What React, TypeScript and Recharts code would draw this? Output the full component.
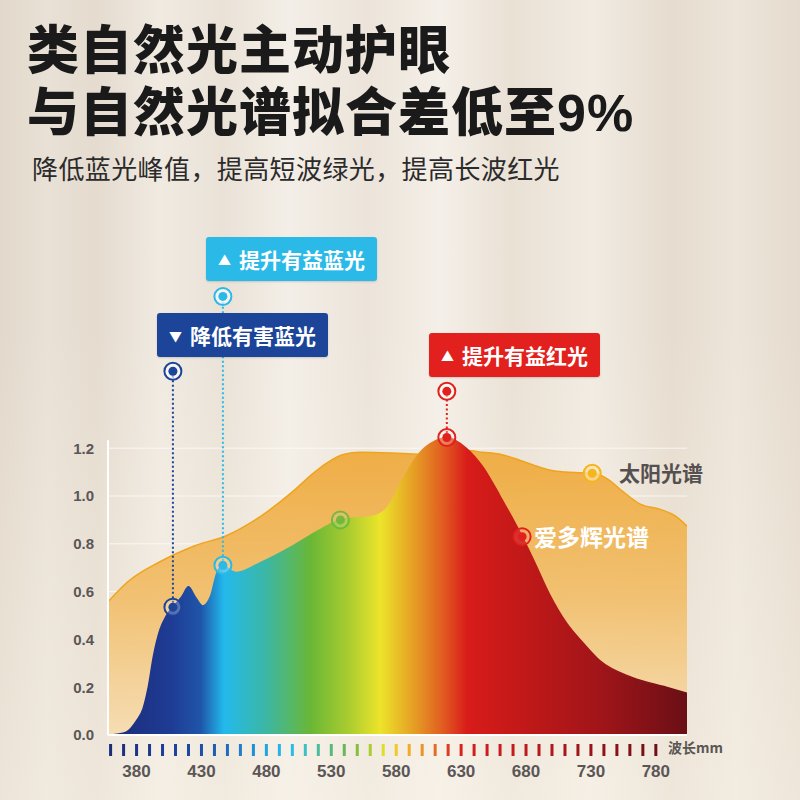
import React from 'react';
import {
  ComposedChart,
  Area,
  XAxis,
  YAxis,
  CartesianGrid,
  ReferenceLine,
  ReferenceDot,
} from 'recharts';

// ---------- data ----------
const sunWavelength = [358, 373, 398, 424, 450, 475, 500, 516, 527, 540, 552, 577, 598, 616, 634, 647, 660, 673, 686, 699, 711, 731, 742, 755, 768, 783, 796, 804];
const sunValue = [0.557, 0.64, 0.725, 0.79, 0.836, 0.913, 1.017, 1.095, 1.14, 1.175, 1.183, 1.18, 1.175, 1.18, 1.19, 1.183, 1.175, 1.154, 1.129, 1.108, 1.1, 1.095, 1.074, 1.017, 0.966, 0.945, 0.913, 0.874];

const productWavelength = [358, 365, 372, 380, 385, 389, 393, 398, 403, 408, 415, 420, 425, 431, 437, 442, 447, 452, 457, 475, 500, 520, 537, 562, 573, 585, 598, 610, 619, 634, 647, 660, 677, 686, 698, 711, 724, 737, 762, 788, 804];
const productValue = [0, 0.003, 0.012, 0.06, 0.11, 0.2, 0.33, 0.44, 0.5, 0.535, 0.58, 0.62, 0.58, 0.54, 0.58, 0.68, 0.71, 0.69, 0.68, 0.72, 0.79, 0.855, 0.9, 0.915, 0.95, 1.07, 1.18, 1.23, 1.245, 1.2, 1.12, 1.0, 0.83, 0.73, 0.59, 0.47, 0.385, 0.31, 0.24, 0.2, 0.175];

const yTicks = [0, 0.2, 0.4, 0.6, 0.8, 1.0, 1.2];
const xTicks = [360, 370, 380, 390, 400, 410, 420, 430, 440, 450, 460, 470, 480, 490, 500, 510, 520, 530, 540, 550, 560, 570, 580, 590, 600, 610, 620, 630, 640, 650, 660, 670, 680, 690, 700, 710, 720, 730, 740, 750, 760, 770, 780];
const xLabels = [380, 430, 480, 530, 580, 630, 680, 730, 780];

// callouts: wavelength, value on curve, value of upper marker
const calloutWavelength = [408, 446.5, 619];
const calloutCurveValue = [0.535, 0.71, 1.245];
const calloutTopValue = [1.522, 1.835, 1.438];

const greenMarker = { x: 537, y: 0.9 };
const sunMarker = { x: 731, y: 1.095 };
const productMarker = { x: 677, y: 0.83 };

const titleLine1 = '类自然光主动护眼';
const titleLine2 = '与自然光谱拟合差低至9%';
const subtitle = '降低蓝光峰值，提高短波绿光，提高长波红光';
const calloutLabels = ['降低有害蓝光', '提升有益蓝光', '提升有益红光'];
const sunLabel = '太阳光谱';
const productLabel = '爱多辉光谱';
const axisUnit = '波长mm';

// ---------- styles ----------
const calloutColors = ['#1c4599', '#2bb9e8', '#e2201d'];
const tickColors = [
  '#1c2c78', '#1d3080', '#1e3487', '#1e388d', '#1f3d94', '#1f429b', '#1f48a2', '#1f4fa9', '#1f5cb3', '#1f6bbf',
  '#1f7dcb', '#2090d6', '#21a4e0', '#23b4e8', '#2abce6', '#3cc0c4', '#4cbc9c', '#5ab97a', '#68b85a', '#84c03e',
  '#aacc30', '#e0dc2c', '#f0c82a', '#eeac28', '#ea9428', '#e46c24', '#de3c20', '#d8221e', '#d21e1e', '#cc1c1e',
  '#c81b1d', '#c41a1d', '#be191c', '#b8181c', '#b0171b', '#a8161b', '#a0151a', '#98141a', '#901319', '#881218',
  '#801117', '#781016', '#700f15',
];
const rainbowStops: [number, string][] = [
  [0, '#1b2a76'],
  [0.11, '#1f3c95'],
  [0.16, '#1f55a9'],
  [0.2, '#22b9ec'],
  [0.275, '#3db7a2'],
  [0.35, '#6ab736'],
  [0.415, '#a9cc30'],
  [0.47, '#ece42a'],
  [0.527, '#e6a025'],
  [0.58, '#e05a20'],
  [0.62, '#d81c1a'],
  [0.735, '#bd1818'],
  [0.85, '#a01519'],
  [1, '#6a0f16'],
];

const sunData = sunWavelength.map((x, i) => ({ x, y: sunValue[i] }));
const productData = productWavelength.map((x, i) => ({ x, y: productValue[i] }));

const NUM_FONT = '"Liberation Sans", Arial, sans-serif';
const CJK_FONT = '"Noto Sans CJK SC", "Noto Sans", sans-serif';
const TITLE_FONT = '"Liberation Sans", "Noto Sans CJK SC", sans-serif';

const WaveTick = (props: any) => {
  const { x, y, payload } = props;
  const v = payload.value;
  const i = xTicks.indexOf(v);
  return (
    <g>
      <rect x={x - 1.5} y={y + 9} width={3} height={12} fill={tickColors[i] || '#333'} />
      {xLabels.includes(v) && (
        <text
          x={x}
          y={y + 42}
          textAnchor="middle"
          fontFamily={NUM_FONT}
          fontWeight="bold"
          fontSize={17}
          fill="#5b5656"
        >
          {v}
        </text>
      )}
    </g>
  );
};

const ring = (color: string, inner = 'rgba(255,255,255,0.25)') => (p: any) => (
  <g>
    <circle cx={p.cx} cy={p.cy} r={8.5} fill={inner} stroke={color} strokeWidth={2} />
    <circle cx={p.cx} cy={p.cy} r={4.5} fill={color} />
  </g>
);

const Callout = ({ left, top, color, text, up }: any) => (
  <div
    style={{
      position: 'absolute',
      left,
      top,
      width: 171,
      height: 44,
      background: color,
      borderRadius: 3,
      color: '#fff',
      display: 'flex',
      alignItems: 'center',
      justifyContent: 'center',
      fontFamily: CJK_FONT,
      fontWeight: 700,
      fontSize: 21,
      boxShadow: '0 1px 2px rgba(0,0,0,0.15)',
    }}
  >
    <span style={{ fontSize: 13, marginRight: 8 }}>{up ? '▲' : '▼'}</span>
    <span>{text}</span>
  </div>
);

const titleStyle: React.CSSProperties = {
  position: 'absolute',
  left: 27,
  fontFamily: TITLE_FONT,
  fontWeight: 900,
  fontSize: 52,
  lineHeight: '56px',
  letterSpacing: 1,
  color: '#1a1a1a',
  whiteSpace: 'nowrap',
};

export default function App() {
  return (
    <div
      style={{
        position: 'absolute',
        left: 0,
        top: 0,
        width: 800,
        height: 800,
        overflow: 'hidden',
        background:
          'linear-gradient(180deg, rgba(255,255,255,0) 40%, rgba(250,244,232,0.45) 100%), linear-gradient(90deg, #e2d8cb 0%, #e9e1d6 6%, #e5dbcf 12%, #f0eae1 20%, #eae2d7 28%, #f3eee7 36%, #ece4da 46%, #f4efe8 55%, #eae1d5 64%, #f1ebe2 74%, #e6dccf 84%, #ede5da 92%, #e5dbce 100%)',
      }}
    >
      <div style={{ position: 'absolute', left: 0, top: 0 }}>
        <ComposedChart width={800} height={800} margin={{ top: 257, right: 113, bottom: 0, left: 0 }}>
          <defs>
            <linearGradient id="sunFill" x1="0" y1="0" x2="0" y2="1">
              <stop offset="0" stopColor="#efa93a" />
              <stop offset="0.5" stopColor="#f1bd68" />
              <stop offset="1" stopColor="#f6dcb0" />
            </linearGradient>
            <linearGradient id="rainbowFill" x1="0" y1="0" x2="1" y2="0">
              {rainbowStops.map(([o, c]) => (
                <stop key={o} offset={o} stopColor={c} />
              ))}
            </linearGradient>
          </defs>
          <CartesianGrid
            vertical={false}
            horizontalValues={yTicks}
            stroke="rgba(255,255,255,0.7)"
            strokeWidth={1}
          />
          <XAxis
            type="number"
            dataKey="x"
            domain={[358, 804]}
            ticks={xTicks}
            interval={0}
            allowDataOverflow
            height={65}
            tickLine={false}
            tickSize={0}
            tickMargin={0}
            axisLine={{ stroke: '#ffffff', strokeWidth: 2 }}
            tick={<WaveTick />}
          />
          <YAxis
            type="number"
            dataKey="y"
            domain={[0, 2]}
            ticks={yTicks}
            interval={0}
            allowDataOverflow
            width={108}
            axisLine={false}
            tickLine={false}
            tickSize={6}
            tickMargin={8}
            tickFormatter={(v: number) => v.toFixed(1)}
            tick={{ fill: '#5b5656', fontSize: 15, fontWeight: 'bold', fontFamily: NUM_FONT }}
          />
          <Area
            data={sunData}
            dataKey="y"
            type="monotone"
            fill="url(#sunFill)"
            fillOpacity={0.93}
            stroke="#f0a41c"
            strokeWidth={1.5}
            isAnimationActive={false}
          />
          <Area
            data={productData}
            dataKey="y"
            type="monotone"
            fill="url(#rainbowFill)"
            fillOpacity={1}
            stroke="url(#rainbowFill)"
            strokeWidth={1.5}
            isAnimationActive={false}
          />
          <ReferenceLine
            segment={[{ x: 358, y: 0 }, { x: 358, y: 1.233 }]}
            stroke="#ffffff"
            strokeWidth={2}
          />
          {calloutWavelength.map((w, i) => (
            <ReferenceLine
              key={'l' + i}
              segment={[{ x: w, y: calloutCurveValue[i] }, { x: w, y: calloutTopValue[i] }]}
              stroke={calloutColors[i]}
              strokeWidth={2}
              strokeDasharray="2 2.5"
            />
          ))}
          {calloutWavelength.map((w, i) => (
            <ReferenceDot
              key={'c' + i}
              x={w}
              y={calloutCurveValue[i]}
              shape={ring(calloutColors[i])}
            />
          ))}
          {calloutWavelength.map((w, i) => (
            <ReferenceDot
              key={'t' + i}
              x={w}
              y={calloutTopValue[i]}
              shape={ring(calloutColors[i], 'rgba(255,255,255,0.6)')}
            />
          ))}
          <ReferenceDot x={greenMarker.x} y={greenMarker.y} shape={ring('rgba(108,179,58,0.85)', 'rgba(180,220,140,0.35)')} />
          <ReferenceDot x={sunMarker.x} y={sunMarker.y} shape={ring('#f5b51c', 'rgba(252,226,170,0.7)')} />
          <ReferenceDot x={productMarker.x} y={productMarker.y} shape={ring('#e3201e', 'rgba(255,140,120,0.25)')} />
        </ComposedChart>
      </div>

      {/* titles */}
      <div style={{ ...titleStyle, top: 23 }}>{titleLine1}</div>
      <div style={{ ...titleStyle, top: 85 }}>{titleLine2}</div>
      <div
        style={{
          position: 'absolute',
          left: 32,
          top: 155,
          fontFamily: CJK_FONT,
          fontWeight: 400,
          fontSize: 26,
          lineHeight: '26px',
          letterSpacing: 0.4,
          color: '#2b2b2b',
          whiteSpace: 'nowrap',
        }}
      >
        {subtitle}
      </div>

      {/* callouts */}
      <Callout left={206} top={237} color={calloutColors[1]} text={calloutLabels[1]} up />
      <Callout left={157} top={313} color={calloutColors[0]} text={calloutLabels[0]} up={false} />
      <Callout left={429} top={333} color={calloutColors[2]} text={calloutLabels[2]} up />

      {/* series labels */}
      <div
        style={{
          position: 'absolute',
          left: 619,
          top: 459,
          fontFamily: CJK_FONT,
          fontWeight: 700,
          fontSize: 21,
          lineHeight: '26px',
          color: '#545050',
          whiteSpace: 'nowrap',
        }}
      >
        {sunLabel}
      </div>
      <div
        style={{
          position: 'absolute',
          left: 534,
          top: 522,
          fontFamily: CJK_FONT,
          fontWeight: 700,
          fontSize: 23,
          lineHeight: '28px',
          color: '#ffffff',
          whiteSpace: 'nowrap',
        }}
      >
        {productLabel}
      </div>
      <div
        style={{
          position: 'absolute',
          left: 668,
          top: 739,
          fontFamily: CJK_FONT,
          fontWeight: 700,
          fontSize: 14,
          lineHeight: '16px',
          color: '#5b5656',
          whiteSpace: 'nowrap',
        }}
      >
        {axisUnit}
      </div>
    </div>
  );
}
